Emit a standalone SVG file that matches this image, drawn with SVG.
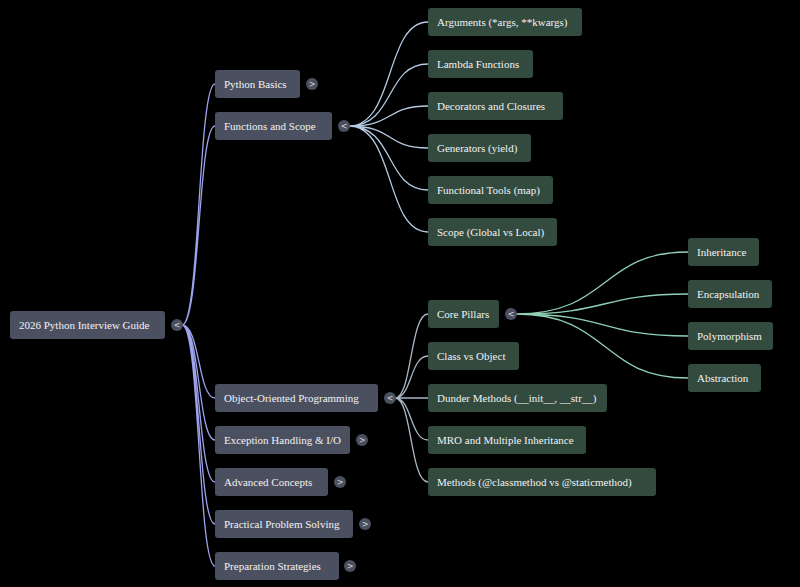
<svg xmlns="http://www.w3.org/2000/svg" width="800" height="587" viewBox="0 0 800 587">
<style>
text{font-family:"Liberation Serif",serif;font-size:11px;fill:#f2f2f2;dominant-baseline:central}
.g{fill:#4b5061}
.n{fill:#334a3f}
.t{fill:#4b5061}
.tt{font-family:"DejaVu Sans",sans-serif;font-size:8px;text-anchor:middle;fill:#ddd}
path{fill:none;stroke-width:1.3}
.a{stroke:#9ea3ee}.b{stroke:#b4cbe2}.c{stroke:#a9b7c6}.d{stroke:#8fd1b5}
</style>
<rect width="800" height="587" fill="#000"/>
<g id="connectors">
<path class="a" d="M182 325C200 325 198 84 215 84M182 325C200 325 198 126 215 126M182 325C200 325 198 398 215 398M182 325C200 325 198 440 215 440M182 325C200 325 198 482 215 482M182 325C200 325 198 524 215 524M182 325C200 325 198 566 215 566"/>
<path class="b" d="M349 126C395 126 385 22 428 22M349 126C395 126 385 64 428 64M349 126C395 126 385 106 428 106M349 126C395 126 385 148 428 148M349 126C395 126 385 190 428 190M349 126C395 126 385 232 428 232"/>
<path class="c" d="M395 398C412 398 410 314 428 314M395 398C412 398 410 356 428 356M395 398L428 398M395 398C412 398 410 440 428 440M395 398C412 398 410 482 428 482"/>
<path class="d" d="M516 314C610 314 600 252 688 252M516 314C610 314 600 294 688 294M516 314C610 314 600 336 688 336M516 314C610 314 600 378 688 378"/>
</g>
<g id="root"><rect class="g" x="10" y="311" width="155" height="28" rx="3"/><text x="19" y="325">2026 Python Interview Guide</text><circle class="t" cx="177" cy="325" r="6"/><text class="tt" x="177" y="325">&lt;</text></g>
<g id="basics"><rect class="g" x="215" y="70" width="85" height="28" rx="3"/><text x="224" y="84">Python Basics</text><circle class="t" cx="312" cy="84" r="6"/><text class="tt" x="312" y="84">&gt;</text></g>
<g id="functions"><rect class="g" x="215" y="112" width="117" height="28" rx="3"/><text x="224" y="126">Functions and Scope</text><circle class="t" cx="344" cy="126" r="6"/><text class="tt" x="344" y="126">&lt;</text></g>
<g id="oop"><rect class="g" x="215" y="384" width="163" height="28" rx="3"/><text x="224" y="398">Object-Oriented Programming</text><circle class="t" cx="390" cy="398" r="6"/><text class="tt" x="390" y="398">&lt;</text></g>
<g id="exceptions"><rect class="g" x="215" y="426" width="135" height="28" rx="3"/><text x="224" y="440">Exception Handling &amp; I/O</text><circle class="t" cx="362" cy="440" r="6"/><text class="tt" x="362" y="440">&gt;</text></g>
<g id="advanced"><rect class="g" x="215" y="468" width="113" height="28" rx="3"/><text x="224" y="482">Advanced Concepts</text><circle class="t" cx="340" cy="482" r="6"/><text class="tt" x="340" y="482">&gt;</text></g>
<g id="practical"><rect class="g" x="215" y="510" width="138" height="28" rx="3"/><text x="224" y="524">Practical Problem Solving</text><circle class="t" cx="365" cy="524" r="6"/><text class="tt" x="365" y="524">&gt;</text></g>
<g id="preparation"><rect class="g" x="215" y="552" width="124" height="28" rx="3"/><text x="224" y="566">Preparation Strategies</text><circle class="t" cx="350" cy="566" r="6"/><text class="tt" x="350" y="566">&gt;</text></g>
<g id="arguments"><rect class="n" x="428" y="8" width="154" height="28" rx="3"/><text x="437" y="22">Arguments (*args, **kwargs)</text></g>
<g id="lambda"><rect class="n" x="428" y="50" width="105" height="28" rx="3"/><text x="437" y="64">Lambda Functions</text></g>
<g id="decorators"><rect class="n" x="428" y="92" width="135" height="28" rx="3"/><text x="437" y="106">Decorators and Closures</text></g>
<g id="generators"><rect class="n" x="428" y="134" width="103" height="28" rx="3"/><text x="437" y="148">Generators (yield)</text></g>
<g id="functools"><rect class="n" x="428" y="176" width="125" height="28" rx="3"/><text x="437" y="190">Functional Tools (map)</text></g>
<g id="scope"><rect class="n" x="428" y="218" width="129" height="28" rx="3"/><text x="437" y="232">Scope (Global vs Local)</text></g>
<g id="pillars"><rect class="n" x="428" y="300" width="71" height="28" rx="3"/><text x="437" y="314">Core Pillars</text><circle class="t" cx="511" cy="314" r="6"/><text class="tt" x="511" y="314">&lt;</text></g>
<g id="classobj"><rect class="n" x="428" y="342" width="91" height="28" rx="3"/><text x="437" y="356">Class vs Object</text></g>
<g id="dunder"><rect class="n" x="428" y="384" width="179" height="28" rx="3"/><text x="437" y="398">Dunder Methods (__init__, __str__)</text></g>
<g id="mro"><rect class="n" x="428" y="426" width="158" height="28" rx="3"/><text x="437" y="440">MRO and Multiple Inheritance</text></g>
<g id="methods"><rect class="n" x="428" y="468" width="228" height="28" rx="3"/><text x="437" y="482">Methods (@classmethod vs @staticmethod)</text></g>
<g id="inheritance"><rect class="n" x="688" y="238" width="71" height="28" rx="3"/><text x="697" y="252">Inheritance</text></g>
<g id="encapsulation"><rect class="n" x="688" y="280" width="84" height="28" rx="3"/><text x="697" y="294">Encapsulation</text></g>
<g id="polymorphism"><rect class="n" x="688" y="322" width="85" height="28" rx="3"/><text x="697" y="336">Polymorphism</text></g>
<g id="abstraction"><rect class="n" x="688" y="364" width="73" height="28" rx="3"/><text x="697" y="378">Abstraction</text></g>
</svg>
